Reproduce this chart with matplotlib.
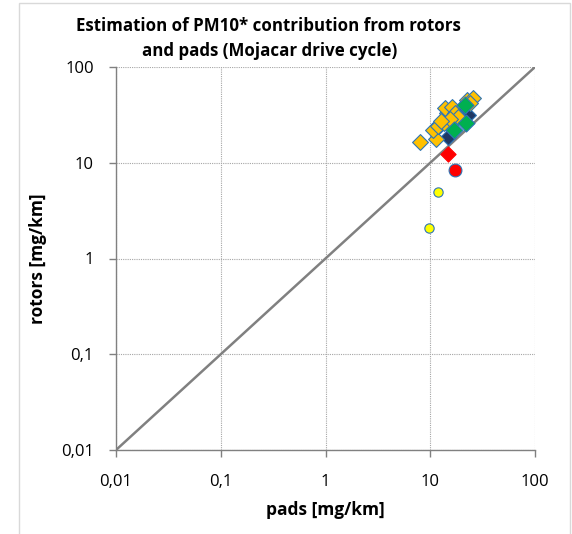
import numpy as np
import matplotlib.pyplot as plt
from matplotlib.patches import Rectangle
from matplotlib.ticker import FixedLocator, NullLocator

# Data (pads, rotors) in mg/km
orange_pads = [8.0, 11.3, 10.7, 11.9, 13.6, 14.4, 13.8, 16.0, 17.2, 18.5, 22.3, 25.8, 24.0, 15.5, 12.8]
orange_rot = [16.4, 17.6, 22.0, 24.2, 25.8, 32.8, 37.0, 38.5, 32.8, 30.3, 45.2, 47.0, 41.8, 28.5, 27.0]
navy_pads = [14.9, 23.0, 12.5, 19.5]
navy_rot = [18.7, 31.6, 24.5, 36.0]
green_pads = [21.5, 21.8, 16.9]
green_rot = [40.1, 26.2, 22.0]
red_d_pads = [14.9]
red_d_rot = [12.2]
red_c_pads = [17.2]
red_c_rot = [8.4]
yellow_pads = [11.9, 9.8]
yellow_rot = [5.0, 2.07]

ticks = [0.01, 0.1, 1, 10, 100]
tick_labels = ['0,01', '0,1', '1', '10', '100']

plt.rcParams['font.family'] = ['Open Sans', 'DejaVu Sans']

fig = plt.figure(figsize=(5.72, 5.34), dpi=100)
fig.patches.append(Rectangle((19 / 572, -0.01), (570 - 19) / 572, (531 / 534) + 0.01,
                             transform=fig.transFigure, fill=False,
                             edgecolor='#d9d9d9', linewidth=1))
ax = fig.add_axes([116 / 572, 84 / 534, 419 / 572, 383 / 534])

ax.set_xscale('log')
ax.set_yscale('log')
ax.set_xlim(0.01, 100)
ax.set_ylim(0.01, 100)

ax.plot([0.01, 100], [0.01, 100], color='#808080', linewidth=1.8, zorder=2)

edge = '#2e75b6'
ax.scatter(navy_pads, navy_rot, marker='D', s=65, color='#1f3864', edgecolors=edge, linewidths=0.8, zorder=3)
ax.scatter(orange_pads, orange_rot, marker='D', s=65, color='#ffc000', edgecolors=edge, linewidths=0.8, zorder=4)
ax.scatter(green_pads, green_rot, marker='D', s=75, color='#00b050', edgecolors=edge, linewidths=0.8, zorder=5)
ax.scatter(red_d_pads, red_d_rot, marker='D', s=60, color='#ff0000', edgecolors='#ff0000', linewidths=0.8, zorder=5)
ax.scatter(red_c_pads, red_c_rot, marker='o', s=85, color='#ff0000', edgecolors=edge, linewidths=0.8, zorder=5)
ax.scatter(yellow_pads, yellow_rot, marker='o', s=45, color='#ffff00', edgecolors=edge, linewidths=0.8, zorder=5)

ax.xaxis.set_major_locator(FixedLocator(ticks))
ax.yaxis.set_major_locator(FixedLocator(ticks))
ax.xaxis.set_minor_locator(NullLocator())
ax.yaxis.set_minor_locator(NullLocator())
ax.set_xticklabels(tick_labels, fontsize=12)
ax.set_yticklabels(tick_labels, fontsize=12)
ax.tick_params(direction='out', length=5, width=1, color='#808080')
ax.tick_params(axis='x', pad=12)
ax.tick_params(axis='y', pad=11)

ax.grid(True, which='major', linestyle=(0, (1, 1)), color='#a6a6a6', linewidth=0.8)
ax.set_axisbelow(True)
for s in ['top', 'right']:
    ax.spines[s].set_visible(False)
for s in ['left', 'bottom']:
    ax.spines[s].set_color('#808080')
    ax.spines[s].set_linewidth(1)

ax.set_xlabel('pads [mg/km]', fontsize=12.5, fontweight='bold', labelpad=8)
ax.set_ylabel('rotors [mg/km]', fontsize=12.5, fontweight='bold', labelpad=10)
fig.text(268 / 572, 1 - 26 / 534, 'Estimation of PM10* contribution from rotors',
         ha='center', va='center', fontsize=12.2, fontweight='bold')
fig.text(270 / 572, 1 - 51 / 534, 'and pads (Mojacar drive cycle)',
         ha='center', va='center', fontsize=12.2, fontweight='bold')

fig.savefig('out.png', dpi=100)
